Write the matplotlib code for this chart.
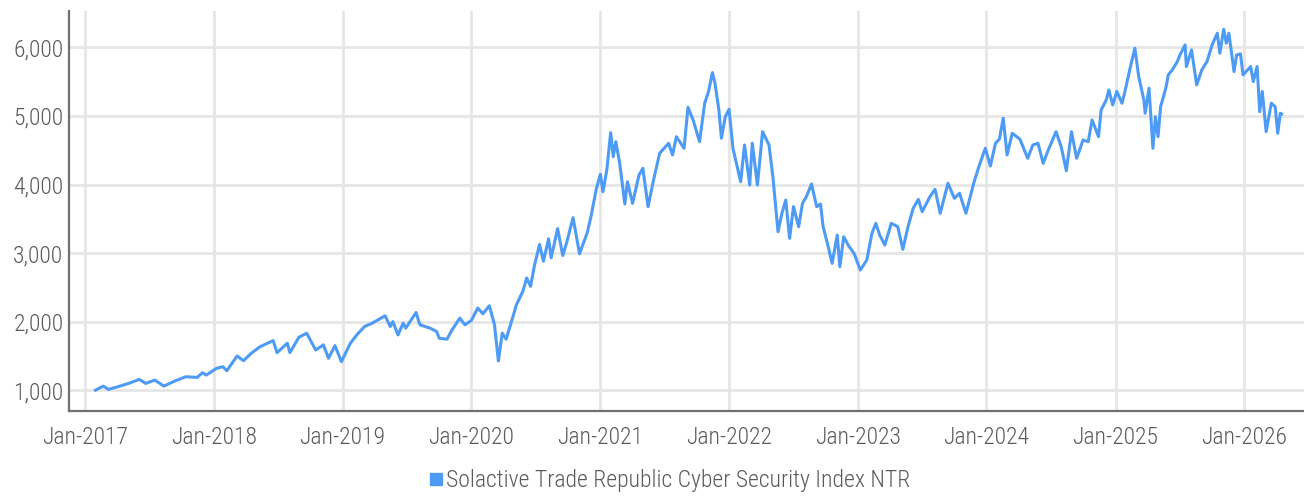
import numpy as np
import pandas as pd
import matplotlib
matplotlib.use('Agg')
import matplotlib.pyplot as plt
import matplotlib.dates as mdates
from matplotlib.lines import Line2D
from matplotlib import font_manager

# values (decimal year -> index level)
years = [
    2017.08, 2017.14, 2017.18, 2017.27, 2017.35, 2017.42, 2017.47, 2017.54, 2017.61, 2017.70,
    2017.78, 2017.87, 2017.91, 2017.94, 2018.02, 2018.07, 2018.10, 2018.18, 2018.23, 2018.29,
    2018.36, 2018.46, 2018.49, 2018.57, 2018.59, 2018.66, 2018.72, 2018.79, 2018.85, 2018.89,
    2018.94, 2018.99, 2019.06, 2019.11, 2019.17, 2019.23, 2019.33, 2019.37, 2019.39, 2019.43,
    2019.47, 2019.49, 2019.57, 2019.60, 2019.68, 2019.73, 2019.75, 2019.81, 2019.85, 2019.91,
    2019.95, 2020.00, 2020.05, 2020.09, 2020.14, 2020.18, 2020.21, 2020.24, 2020.27, 2020.32,
    2020.35, 2020.40, 2020.43, 2020.46, 2020.49, 2020.53, 2020.56, 2020.60, 2020.62, 2020.67,
    2020.71, 2020.74, 2020.79, 2020.84, 2020.90, 2020.93, 2020.97, 2021.00, 2021.02, 2021.05,
    2021.08, 2021.10, 2021.12, 2021.15, 2021.19, 2021.21, 2021.25, 2021.30, 2021.33, 2021.37,
    2021.41, 2021.46, 2021.53, 2021.56, 2021.59, 2021.65, 2021.68, 2021.72, 2021.77, 2021.81,
    2021.84, 2021.87, 2021.89, 2021.92, 2021.94, 2021.97, 2022.00, 2022.03, 2022.09, 2022.12,
    2022.16, 2022.18, 2022.22, 2022.26, 2022.31, 2022.34, 2022.38, 2022.41, 2022.44, 2022.47,
    2022.50, 2022.54, 2022.57, 2022.60, 2022.64, 2022.68, 2022.71, 2022.73, 2022.77, 2022.80,
    2022.84, 2022.86, 2022.89, 2022.93, 2022.97, 2023.02, 2023.07, 2023.11, 2023.14, 2023.17,
    2023.21, 2023.26, 2023.31, 2023.35, 2023.39, 2023.43, 2023.47, 2023.50, 2023.56, 2023.60,
    2023.64, 2023.70, 2023.75, 2023.79, 2023.84, 2023.90, 2023.94, 2023.99, 2024.03, 2024.07,
    2024.10, 2024.13, 2024.16, 2024.20, 2024.26, 2024.32, 2024.36, 2024.40, 2024.44, 2024.48,
    2024.54, 2024.58, 2024.62, 2024.66, 2024.70, 2024.75, 2024.79, 2024.82, 2024.87, 2024.89,
    2024.93, 2024.95, 2024.98, 2025.01, 2025.05, 2025.07, 2025.11, 2025.15, 2025.18, 2025.22,
    2025.23, 2025.26, 2025.29, 2025.31, 2025.33, 2025.35, 2025.39, 2025.41, 2025.44, 2025.48,
    2025.50, 2025.54, 2025.55, 2025.59, 2025.63, 2025.67, 2025.71, 2025.75, 2025.79, 2025.81,
    2025.84, 2025.86, 2025.88, 2025.92, 2025.94, 2025.97, 2025.99, 2026.05, 2026.07, 2026.10,
    2026.12, 2026.14, 2026.17, 2026.21, 2026.24, 2026.26, 2026.28, 2026.29,
]
index_ntr = [
    1000, 1059, 1010, 1059, 1107, 1157, 1098, 1147, 1059, 1136,
    1195, 1186, 1254, 1220, 1318, 1342, 1283, 1498, 1430, 1538,
    1635, 1723, 1547, 1684, 1547, 1772, 1831, 1586, 1660, 1465,
    1650, 1415, 1684, 1806, 1928, 1977, 2085, 1928, 2001, 1806,
    1977, 1904, 2133, 1953, 1904, 1855, 1758, 1743, 1880, 2051,
    1953, 2016, 2198, 2114, 2231, 1953, 1425, 1831, 1743, 2051,
    2246, 2441, 2637, 2514, 2818, 3126, 2881, 3209, 2931, 3356,
    2964, 3151, 3517, 2990, 3297, 3541, 3932, 4150, 3895, 4212,
    4757, 4406, 4625, 4310, 3716, 4041, 3726, 4139, 4237, 3677,
    4041, 4456, 4602, 4431, 4698, 4529, 5127, 4942, 4625, 5186,
    5358, 5633, 5478, 5088, 4675, 4990, 5098, 4529, 4041, 4577,
    3993, 4602, 3993, 4771, 4577, 4114, 3311, 3580, 3774, 3215,
    3677, 3385, 3726, 3822, 4008, 3677, 3716, 3385, 3092, 2850,
    3263, 2800, 3238, 3100, 2996, 2752, 2898, 3288, 3434, 3263,
    3117, 3434, 3385, 3054, 3385, 3653, 3784, 3603, 3822, 3930,
    3580, 4018, 3799, 3872, 3580, 4018, 4260, 4529, 4270, 4602,
    4660, 4967, 4431, 4748, 4660, 4383, 4577, 4602, 4310, 4504,
    4771, 4552, 4202, 4771, 4383, 4650, 4625, 4942, 4698, 5088,
    5234, 5380, 5161, 5358, 5186, 5332, 5672, 5989, 5575, 5234,
    5040, 5405, 4529, 4990, 4698, 5137, 5405, 5600, 5672, 5794,
    5891, 6037, 5721, 5964, 5453, 5672, 5794, 6037, 6207, 5916,
    6265, 6061, 6207, 5648, 5891, 5906, 5600, 5721, 5502, 5721,
    5063, 5358, 4771, 5186, 5137, 4748, 5040, 5030,
]
series_name = 'Solactive Trade Republic Cyber Security Index NTR'
y_ticks = [1000, 2000, 3000, 4000, 5000, 6000]


def to_dates(dec_years):
    out = []
    for y in dec_years:
        yr = int(np.floor(y))
        out.append(pd.Timestamp(year=yr, month=1, day=1) + pd.Timedelta(days=(y - yr) * 365.25))
    return out


available = {f.name for f in font_manager.fontManager.ttflist}
family = [f for f in ['Roboto Condensed', 'Liberation Sans Narrow', 'Roboto', 'DejaVu Sans'] if f in available]
plt.rcParams['font.family'] = family
plt.rcParams['font.weight'] = 'light'

line_color = '#4d9bf5'
text_color = '#5a5a5a'
grid_color = '#e6e6e6'
spine_color = '#707070'
fsize = 17

fig = plt.figure(figsize=(13.04, 4.96), dpi=100)
ax = fig.add_axes([0.0529, 0.171, 0.9471, 0.807])

dates = to_dates(years)
ax.plot(dates, index_ntr, color=line_color, linewidth=2.2, solid_joinstyle='round')

ax.set_xlim(to_dates([2016.876])[0], to_dates([2026.464])[0])
ax.set_ylim(693, 6533)

ax.xaxis.set_major_locator(mdates.YearLocator(1, month=1, day=1))
ax.xaxis.set_major_formatter(mdates.DateFormatter('%b-%Y'))
ax.set_yticks(y_ticks)
ax.set_yticklabels([f'{v:,}' for v in y_ticks])

ax.grid(True, color=grid_color, linewidth=2.0)
ax.set_axisbelow(True)
ax.tick_params(axis='both', length=0, labelsize=fsize, colors=text_color)
ax.tick_params(axis='x', pad=11)
ax.tick_params(axis='y', pad=4)

for side in ['top', 'right']:
    ax.spines[side].set_visible(False)
for side in ['left', 'bottom']:
    ax.spines[side].set_color(spine_color)
    ax.spines[side].set_linewidth(1.6)

handle = Line2D([], [], marker='s', linestyle='none', color=line_color, markersize=8)
fig.legend([handle], [series_name], loc='center', bbox_to_anchor=(0.513, 0.031),
           frameon=False, fontsize=fsize, labelcolor=text_color,
           handletextpad=0.05, handlelength=0.7)

fig.savefig('out.png', dpi=100)
